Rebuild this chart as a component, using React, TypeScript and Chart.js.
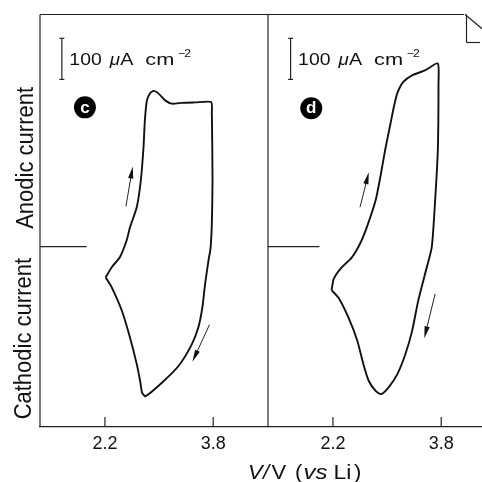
import React, { useEffect, useRef } from "react";
import { Chart, registerables } from "chart.js";

Chart.register(...registerables);

const FONT = '"Liberation Sans", Arial, Helvetica, sans-serif';

// axes
const X_MIN = 1.24;
const X_MAX = 4.61;
const Y_MIN = -439;
const Y_MAX = 565;
const X_TICKS = [2.2, 3.8];

// panel (c): potential (V vs Li) and current density (µA cm^-2), one closed sweep
const cVolt = [2.21, 2.3, 2.42, 2.52, 2.57, 2.67, 2.73, 2.77, 2.79, 2.82, 2.87, 2.92, 2.99, 3.09, 3.19, 3.34, 3.53, 3.77, 3.78, 3.79, 3.78, 3.76, 3.73, 3.68, 3.64, 3.58, 3.48, 3.29, 3.05, 2.8, 2.75, 2.72, 2.67, 2.57, 2.45, 2.3, 2.21];
const cCurr = [-75, -50, -26, 15, 47, 96, 161, 242, 307, 356, 374, 379, 373, 356, 348, 350, 351, 352, 325, 161, 56, -5, -34, -91, -148, -197, -239, -290, -330, -364, -356, -327, -286, -221, -156, -99, -75];

// panel (d)
const dVolt = [2.18, 2.21, 2.31, 2.48, 2.6, 2.7, 2.83, 2.9, 2.97, 3.05, 3.1, 3.15, 3.24, 3.37, 3.56, 3.75, 3.76, 3.75, 3.71, 3.66, 3.56, 3.46, 3.37, 3.27, 3.15, 3.02, 2.91, 2.83, 2.73, 2.65, 2.56, 2.43, 2.28, 2.18];
const dCurr = [-106, -79, -54, -26, 7, 47, 112, 169, 234, 299, 340, 373, 401, 417, 429, 446, 397, 234, 112, -2, -67, -132, -205, -262, -311, -343, -359, -351, -327, -286, -229, -173, -124, -106];

// zero-current reference lines (potential span)
const cZeroLine = [1.24, 1.93];
const dZeroLine = [1.24, 2.0];

// sweep-direction arrows [fromV, fromI, toV, toI]
const cArrows = [
  [2.51, 98, 2.61, 195],
  [3.745, -190, 3.493, -280],
];
const dArrows = [
  [2.6, 96, 2.73, 181],
  [3.71, -115, 3.55, -223],
];

// 100 µA cm^-2 scale bar
const SCALE_BAR_TOP = 507;
const SCALE_BAR_SPAN = 100;
const SCALE_TEXT_I = 441;
const cScaleBarV = 1.563;
const dScaleBarV = 1.574;

// panel letters [V, I]
const cLetterPos = [1.904, 339];
const dLetterPos = [1.879, 337];

const LABEL_ANODIC_I = 216;
const LABEL_CATHODIC_I = -224;

type Panel = {
  volt: number[];
  curr: number[];
  zero: number[];
  arrows: number[][];
  barV: number;
  letter: string;
  letterPos: number[];
  isLeft: boolean;
};

function line(ctx: CanvasRenderingContext2D, x1: number, y1: number, x2: number, y2: number) {
  ctx.beginPath();
  ctx.moveTo(x1, y1);
  ctx.lineTo(x2, y2);
  ctx.stroke();
}

function arrow(ctx: CanvasRenderingContext2D, x1: number, y1: number, x2: number, y2: number) {
  const ang = Math.atan2(y2 - y1, x2 - x1);
  const L = 12;
  const W = 2.6;
  line(ctx, x1, y1, x2 - 6 * Math.cos(ang), y2 - 6 * Math.sin(ang));
  ctx.beginPath();
  ctx.moveTo(x2, y2);
  ctx.lineTo(x2 - L * Math.cos(ang) + W * Math.sin(ang), y2 - L * Math.sin(ang) - W * Math.cos(ang));
  ctx.lineTo(x2 - L * Math.cos(ang) - W * Math.sin(ang), y2 - L * Math.sin(ang) + W * Math.cos(ang));
  ctx.closePath();
  ctx.fill();
}

function wideText(ctx: CanvasRenderingContext2D, t: string, px: number, py: number, font: string, sx: number) {
  ctx.save();
  ctx.font = font;
  ctx.translate(px, py);
  ctx.scale(sx, 1);
  ctx.fillText(t, 0, 0);
  ctx.restore();
}

function makePanel(canvas: HTMLCanvasElement, p: Panel) {
  const decor = {
    id: "decor-" + p.letter,
    afterDraw(chart: any) {
      const { ctx, chartArea } = chart;
      const { left, right, top, bottom } = chartArea;
      const x = chart.scales.x;
      const y = chart.scales.y;
      ctx.save();
      ctx.strokeStyle = "#222";
      ctx.fillStyle = "#111";
      ctx.lineWidth = 1.2;
      // frame
      line(ctx, left, top, left, bottom);
      if (p.isLeft) {
        line(ctx, left, top, right, top);
      } else {
        const foldX = left + 196;
        line(ctx, left, top, foldX, top);
        line(ctx, foldX + 1, top, foldX + 19, top + 15);
        line(ctx, foldX + 2.5, top, foldX + 2.5, top + 28);
        line(ctx, foldX + 2.5, top + 28, foldX + 16, top + 28);
      }
      // inward ticks
      X_TICKS.forEach((v) => {
        const px = x.getPixelForValue(v);
        line(ctx, px, bottom, px, bottom - 10);
      });
      // scale bar
      const bx = x.getPixelForValue(p.barV);
      const yt = y.getPixelForValue(SCALE_BAR_TOP);
      const yb = y.getPixelForValue(SCALE_BAR_TOP - SCALE_BAR_SPAN);
      line(ctx, bx, yt, bx, yb);
      line(ctx, bx - 2.5, yt, bx + 2.5, yt);
      line(ctx, bx - 2.5, yb, bx + 2.5, yb);
      const base = y.getPixelForValue(SCALE_TEXT_I);
      ctx.textAlign = "left";
      ctx.textBaseline = "alphabetic";
      const f = `17px ${FONT}`;
      wideText(ctx, "100", bx + 7.5, base, f, 1.14);
      wideText(ctx, "μ", bx + 48, base, `italic 17px ${FONT}`, 1.1);
      wideText(ctx, "A", bx + 58.5, base, f, 1.16);
      wideText(ctx, "cm", bx + 83.5, base, f, 1.28);
      wideText(ctx, "−", bx + 116.5, base - 8.3, `11px ${FONT}`, 1.1);
      wideText(ctx, "2", bx + 122.5, base - 8.3, `11px ${FONT}`, 1.1);
      // panel letter
      const lx = x.getPixelForValue(p.letterPos[0]);
      const ly = y.getPixelForValue(p.letterPos[1]);
      ctx.fillStyle = "#000";
      ctx.beginPath();
      ctx.arc(lx, ly, 11, 0, Math.PI * 2);
      ctx.fill();
      ctx.fillStyle = "#fff";
      ctx.font = `bold 17px ${FONT}`;
      ctx.textAlign = "center";
      ctx.textBaseline = "middle";
      ctx.fillText(p.letter, lx, ly + 0.5);
      // arrows
      ctx.fillStyle = "#111";
      ctx.lineWidth = 1;
      p.arrows.forEach((a) => {
        arrow(ctx, x.getPixelForValue(a[0]), y.getPixelForValue(a[1]), x.getPixelForValue(a[2]), y.getPixelForValue(a[3]));
      });
      // axis titles
      ctx.fillStyle = "#111";
      if (p.isLeft) {
        ctx.font = `22px ${FONT}`;
        ctx.textAlign = "center";
        ctx.textBaseline = "alphabetic";
        ctx.save();
        ctx.translate(left - 7, y.getPixelForValue(LABEL_ANODIC_I));
        ctx.rotate(-Math.PI / 2);
        ctx.scale(1, 1.05);
        ctx.fillText("Anodic current", 0, 0);
        ctx.restore();
        ctx.save();
        ctx.translate(left - 9, y.getPixelForValue(LABEL_CATHODIC_I));
        ctx.rotate(-Math.PI / 2);
        ctx.scale(1, 1.05);
        ctx.fillText("Cathodic current", 0, 0);
        ctx.restore();
      } else {
        const tb = bottom + 52;
        ctx.textAlign = "left";
        ctx.textBaseline = "alphabetic";
        const it = `italic 20px ${FONT}`;
        const nr = `20px ${FONT}`;
        wideText(ctx, "V", left - 20, tb, it, 1.1);
        wideText(ctx, "/", left - 5, tb, it, 1.1);
        wideText(ctx, "V", left + 3.5, tb, nr, 1.1);
        wideText(ctx, "(", left + 27, tb, nr, 1.1);
        wideText(ctx, "vs", left + 35.5, tb, it, 1.2);
        wideText(ctx, "Li", left + 65.5, tb, nr, 1.15);
        wideText(ctx, ")", left + 86, tb, nr, 1.1);
      }
      ctx.restore();
    },
  };

  return new Chart(canvas, {
    type: "scatter",
    data: {
      datasets: [
        {
          data: p.volt.map((v, i) => ({ x: v, y: p.curr[i] })),
          showLine: true,
          borderColor: "#111",
          borderWidth: 1.9,
          pointRadius: 0,
          tension: 0.2,
          fill: false,
        },
        {
          data: p.zero.map((v) => ({ x: v, y: 0 })),
          showLine: true,
          borderColor: "#222",
          borderWidth: 1.4,
          pointRadius: 0,
          fill: false,
        },
      ],
    },
    options: {
      animation: false,
      responsive: false,
      devicePixelRatio: 1,
      layout: {
        padding: p.isLeft
          ? { left: 40, right: 0, top: 14.5, bottom: 20.4 }
          : { left: 68, right: 4, top: 14.5, bottom: 20.4 },
      },
      plugins: { legend: { display: false }, tooltip: { enabled: false } },
      scales: {
        x: {
          type: "linear",
          min: X_MIN,
          max: X_MAX,
          afterBuildTicks: (s: any) => {
            s.ticks = X_TICKS.map((v) => ({ value: v }));
          },
          grid: { display: false, drawTicks: false },
          border: { display: true, color: "#222", width: 1.2 },
          ticks: {
            color: "#111",
            font: { family: FONT, size: 18 },
            padding: 6.5,
            autoSkip: false,
            maxRotation: 0,
            callback: (v: any) => Number(v).toFixed(1),
          },
        },
        y: { type: "linear", min: Y_MIN, max: Y_MAX, display: false },
      },
    },
    plugins: [decor],
  } as any);
}

export default function App() {
  const leftRef = useRef<HTMLCanvasElement>(null);
  const rightRef = useRef<HTMLCanvasElement>(null);
  useEffect(() => {
    const a = makePanel(leftRef.current!, {
      volt: cVolt, curr: cCurr, zero: cZeroLine, arrows: cArrows, barV: cScaleBarV,
      letter: "c", letterPos: cLetterPos, isLeft: true,
    });
    const b = makePanel(rightRef.current!, {
      volt: dVolt, curr: dCurr, zero: dZeroLine, arrows: dArrows, barV: dScaleBarV,
      letter: "d", letterPos: dLetterPos, isLeft: false,
    });
    return () => {
      a.destroy();
      b.destroy();
    };
  }, []);
  return (
    <div style={{ position: "fixed", left: 0, top: 0, width: 482, height: 482, overflow: "hidden", background: "#fff" }}>
      <canvas ref={leftRef} width={268} height={482} style={{ position: "absolute", left: 0, top: 0, width: 268, height: 482 }} />
      <canvas ref={rightRef} width={300} height={482} style={{ position: "absolute", left: 200, top: 0, width: 300, height: 482 }} />
    </div>
  );
}
